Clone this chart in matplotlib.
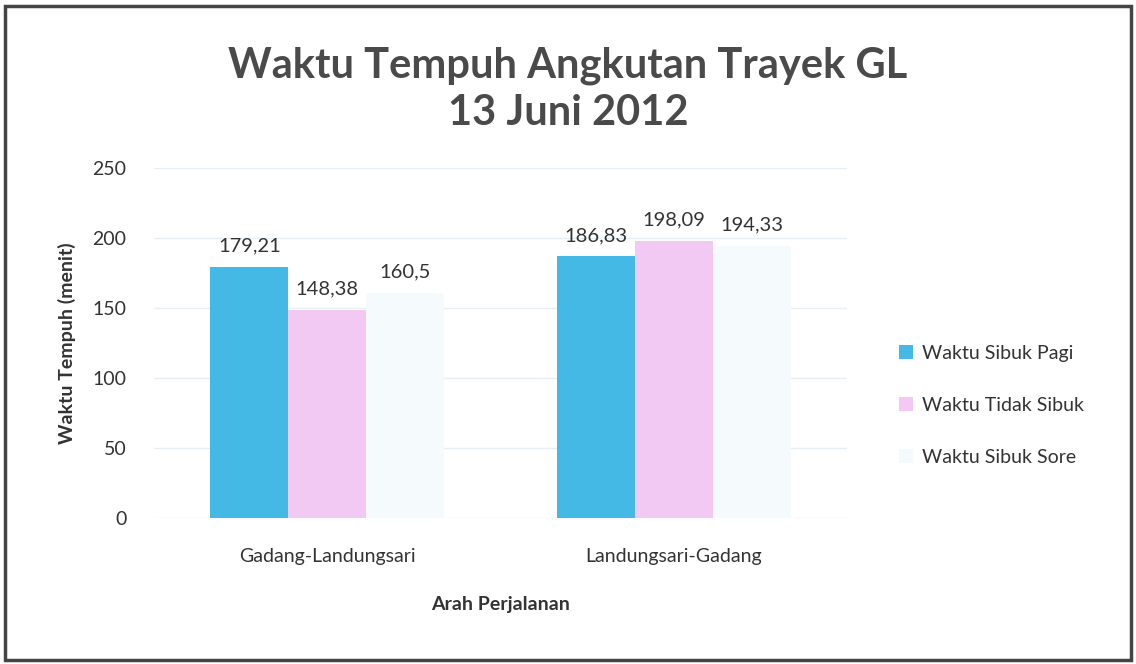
import numpy as np
import matplotlib.pyplot as plt
from matplotlib.patches import Rectangle

# data
arah = ["Gadang-Landungsari", "Landungsari-Gadang"]
seri = ["Waktu Sibuk Pagi", "Waktu Tidak Sibuk", "Waktu Sibuk Sore"]
pagi = [179.21, 186.83]
tidak_sibuk = [148.38, 198.09]
sore = [160.5, 194.33]
label_pagi = ["179,21", "186,83"]
label_tidak = ["148,38", "198,09"]
label_sore = ["160,5", "194,33"]

plt.rcParams['font.family'] = ['Lato', 'DejaVu Sans']

fig = plt.figure(figsize=(11.36, 6.64), dpi=100)
ax = fig.add_axes([0.1356, 0.22, 0.61, 0.527])

warna = ["#45b9e6", "#f2c9f2", "#f5fbfd"]
lebar = 0.225
x = np.arange(len(arah))
nilai = [pagi, tidak_sibuk, sore]
teks = [label_pagi, label_tidak, label_sore]

for i in range(3):
    pos = x + (i - 1) * lebar
    ax.bar(pos, nilai[i], lebar, color=warna[i], label=seri[i], zorder=2)
    for xx, v, t in zip(pos, nilai[i], teks[i]):
        ax.annotate(t, (xx, v), xytext=(0, 9), textcoords="offset points",
                    ha="center", va="bottom", fontsize=14.5, color="#333333")

ax.set_xlim(-0.5, 1.5)
ax.set_ylim(0, 250)
ax.set_yticks(range(0, 251, 50))
ax.set_xticks(x)
ax.set_xticklabels(arah, fontsize=14, color="#333333")
ax.tick_params(axis="y", labelsize=14, colors="#333333", length=0, pad=20)
ax.tick_params(axis="x", length=0, pad=22)
ax.grid(axis="y", color="#e6f0f4", linewidth=1, zorder=0)
for s in ax.spines.values():
    s.set_visible(False)

ax.set_ylabel("Waktu Tempuh (menit)", fontsize=14, fontweight="bold",
              color="#333333", labelpad=12)
ax.set_xlabel("Arah Perjalanan", fontsize=14, fontweight="bold",
              color="#333333", labelpad=22)

fig.suptitle("Waktu Tempuh Angkutan Trayek GL\n13 Juni 2012", y=0.93,
             fontsize=30, fontweight="bold", color="#4a4a4a", linespacing=1.3)

ax.legend(loc="center left", bbox_to_anchor=(0.776, 0.39),
          bbox_transform=fig.transFigure, frameon=False, fontsize=14,
          handlelength=0.7, handleheight=0.7, handletextpad=0.5,
          labelspacing=1.8, labelcolor="#333333")

# bingkai luar
fig.patches.append(Rectangle((0.004, 0.006), 0.992, 0.985, transform=fig.transFigure,
                             fill=False, edgecolor="#444444", linewidth=2.5))

fig.savefig("out.png", dpi=100)
